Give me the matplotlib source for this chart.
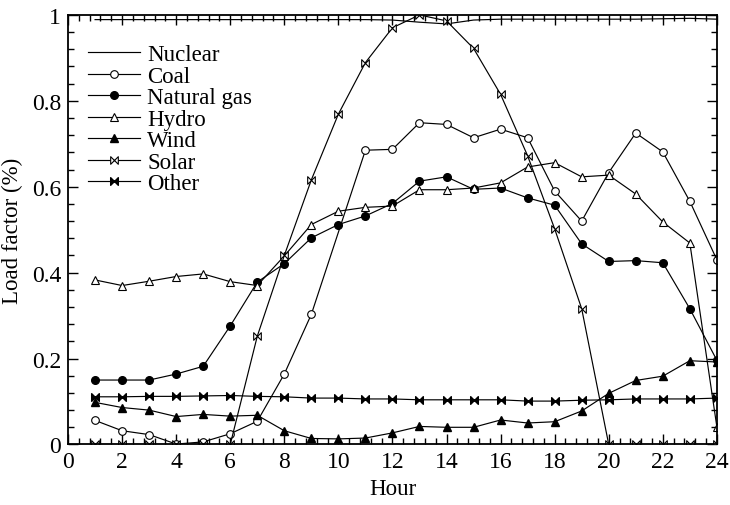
import matplotlib
matplotlib.use('Agg')
import matplotlib.pyplot as plt
from matplotlib.path import Path
from matplotlib.ticker import MultipleLocator, FuncFormatter

hours = list(range(1, 25))
coal_hours = [h for h in hours if h != 10]   #no coal marker at hour 10

nuclear = [0.989, 0.989, 0.989, 0.989, 0.989, 0.989, 0.989, 0.989, 0.989, 0.989, 0.989, 0.988,
           0.983, 0.979, 0.988, 0.990, 0.990, 0.990, 0.990, 0.990, 0.990, 0.991, 0.992, 0.990]
coal = [0.056, 0.032, 0.023, 0.001, 0.006, 0.025, 0.054, 0.164, 0.303, 0.685, 0.687,
        0.749, 0.745, 0.714, 0.734, 0.714, 0.590, 0.520, 0.633, 0.725, 0.681, 0.566, 0.430]
natural_gas = [0.150, 0.150, 0.150, 0.164, 0.182, 0.276, 0.378, 0.421, 0.481, 0.512, 0.532, 0.561,
               0.613, 0.623, 0.594, 0.597, 0.574, 0.557, 0.467, 0.426, 0.428, 0.423, 0.316, 0.196]
hydro = [0.383, 0.370, 0.380, 0.391, 0.397, 0.379, 0.370, 0.439, 0.512, 0.543, 0.552, 0.555,
         0.593, 0.593, 0.597, 0.609, 0.646, 0.656, 0.623, 0.627, 0.583, 0.518, 0.469, 0.041]
wind = [0.098, 0.086, 0.080, 0.065, 0.070, 0.066, 0.068, 0.032, 0.014, 0.013, 0.015, 0.027,
        0.042, 0.040, 0.040, 0.057, 0.050, 0.053, 0.078, 0.119, 0.149, 0.159, 0.195, 0.192]
solar = [0.0, 0.0, 0.0, 0.0, 0.0, 0.0, 0.252, 0.440, 0.616, 0.769, 0.889, 0.970,
         1.000, 0.986, 0.922, 0.815, 0.672, 0.502, 0.316, 0.0, 0.0, 0.0, 0.0, 0.0]
other = [0.111, 0.111, 0.112, 0.112, 0.113, 0.114, 0.112, 0.111, 0.108, 0.108, 0.106, 0.106,
         0.104, 0.104, 0.104, 0.104, 0.101, 0.101, 0.103, 0.104, 0.106, 0.106, 0.106, 0.108]

plt.rcParams['font.family'] = ['Liberation Serif', 'DejaVu Serif']

#bowtie marker for solar (open) and other (filled)
bowtie = Path([(-1, -1), (-1, 1), (1, -1), (1, 1), (-1, -1)],
              [Path.MOVETO, Path.LINETO, Path.LINETO, Path.LINETO, Path.CLOSEPOLY])

lw = 0.85
ms = 5.5
f1, ax = plt.subplots(figsize=(7.3, 5.06), dpi=100)
f1.subplots_adjust(left=0.0932, right=0.982, top=0.9686, bottom=0.1196)

ax.plot(hours, nuclear, color='black', linewidth=lw, label='Nuclear')
ax.plot(coal_hours, coal, color='black', linewidth=lw, marker='o', ms=ms,
        mfc='white', mec='black', mew=0.8, label='Coal')
ax.plot(hours, natural_gas, color='black', linewidth=lw, marker='o', ms=ms,
        mfc='black', mec='black', label='Natural gas')
ax.plot(hours, hydro, color='black', linewidth=lw, marker='^', ms=ms + 0.5,
        mfc='white', mec='black', mew=0.8, label='Hydro')
ax.plot(hours, wind, color='black', linewidth=lw, marker='^', ms=ms + 0.5,
        mfc='black', mec='black', label='Wind')
ax.plot(hours, solar, color='black', linewidth=lw, marker=bowtie, ms=ms,
        mfc='white', mec='black', mew=0.8, label='Solar')
ax.plot(hours, other, color='black', linewidth=lw, marker=bowtie, ms=ms,
        mfc='black', mec='black', label='Other')

ax.set_xlim(0, 24)
ax.set_ylim(0, 1)
ax.xaxis.set_major_locator(MultipleLocator(2))
ax.xaxis.set_minor_locator(MultipleLocator(0.4))
ax.yaxis.set_major_locator(MultipleLocator(0.2))
ax.yaxis.set_minor_locator(MultipleLocator(0.04))
ax.yaxis.set_major_formatter(FuncFormatter(lambda v, p: ('%g' % round(v, 2))))

ax.tick_params(which='both', direction='in', top=True, right=True, labelsize=17, width=1)
ax.tick_params(which='major', length=7, pad=5)
ax.tick_params(which='minor', length=4)
for s in ax.spines.values():
    s.set_linewidth(1.3)

ax.set_xlabel('Hour', fontsize=16.5, labelpad=4)
ax.set_ylabel('Load factor (%)', fontsize=16.5, labelpad=6)

ax.legend(loc='upper left', bbox_to_anchor=(0.031, 0.932), frameon=False, fontsize=16.5,
          handlelength=2.25, handletextpad=0.32, labelspacing=0.02, borderpad=0, borderaxespad=0)

plt.savefig('out.png', dpi=100)
